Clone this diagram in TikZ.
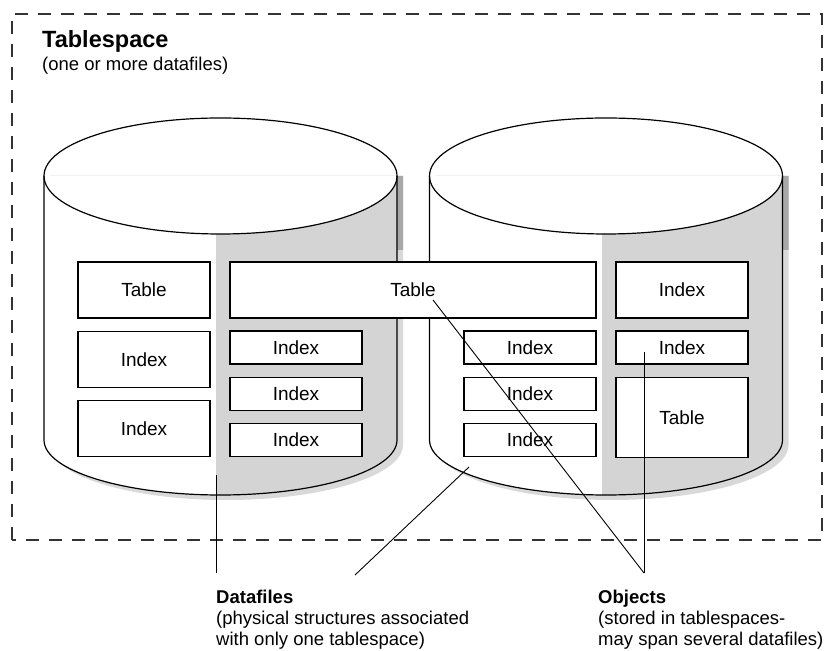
\documentclass[tikz,border=0pt]{standalone}
\usepackage{fontspec}
\setmainfont{Liberation Sans}
\usetikzlibrary{positioning}
\usetikzlibrary{calc}

\begin{document}
\begin{tikzpicture}[x=1pt,y=1pt,node distance=12pt,
    obj/.style={draw,fill=white,line width=1.3pt,inner sep=0pt,minimum width=132pt,font=\fontsize{19}{21}\selectfont},
    big/.style={obj,minimum height=56pt},
    small/.style={obj,minimum height=33pt},
    lbl/.style={inner sep=0pt,anchor=north west,align=left,font=\fontsize{18.5}{21}\selectfont},
    lead/.style={line width=0.9pt}]
    \useasboundingbox (0,0) rectangle (837,650);
    \draw[line width=1.3pt,black!80,dash pattern=on 13pt off 10pt] (12,110) rectangle (822,636);
    \node[inner sep=0pt,anchor=base west,font=\fontsize{23.5}{27}\selectfont\bfseries] (tsname) at (42,602) {Tablespace};
    \node[inner sep=0pt,anchor=base west,font=\fontsize{18.5}{21}\selectfont] (tsnote) at (42,579) {(one or more datafiles)};
    % the two datafiles
    \foreach \cx/\sx in {220.5/216,606/602}{
      \fill[black!15] (\cx-170.5,474) -- (\cx-170.5,205) arc (180:360:176.5 and 55) -- (\cx+182.5,474) -- cycle;
      \begin{scope}
        \clip (0,474) rectangle (837,400);
        \fill[black!34] (\cx-170.5,474) -- (\cx-170.5,205) arc (180:360:176.5 and 55) -- (\cx+182.5,474) -- cycle;
      \end{scope}
      \fill[white] (\cx-176.5,474) -- (\cx-176.5,210) arc (180:360:176.5 and 55) -- (\cx+176.5,474) -- cycle;
      \begin{scope}
        \clip (\sx,474) rectangle (\cx+180,150);
        \fill[black!17] (\cx-176.5,474) -- (\cx-176.5,210) arc (180:360:176.5 and 55) -- (\cx+176.5,474) arc (0:-180:176.5 and 58) -- cycle;
      \end{scope}
      \draw[line width=1.2pt] (\cx,474) ellipse (176.5 and 58);
      \draw[line width=1.2pt] (\cx-176.5,474) -- (\cx-176.5,210) arc (180:360:176.5 and 55) -- (\cx+176.5,474);
    }
    % objects
    \node[big] (tabA) at (144,360) {Table};
    \node[big,below=of tabA] (idxA) {Index};
    \node[big,below=of idxA] (idxB) {Index};
    \node[big,minimum width=366pt] (tabB) at (413,360) {Table};
    \node[small] (idxC) at (296,302.5) {Index};
    \node[small,below=of idxC] (idxD) {Index};
    \node[small,below=of idxD] (idxE) {Index};
    \node[small] (idxF) at (530,302.5) {Index};
    \node[small,below=of idxF] (idxG) {Index};
    \node[small,below=of idxG] (idxH) {Index};
    \node[big] (idxI) at (682,360) {Index};
    \node[small] (idxJ) at (682,302.5) {Index};
    \node[obj,minimum height=80pt,below=of idxJ] (tabC) {Table};
    % labels
    \node[lbl] (dflabel) at (216,60.5) {\textbf{Datafiles}\\(physical structures associated\\with only one tablespace)};
    \node[lbl] (oblabel) at (598,60.5) {\textbf{Objects}\\(stored in tablespaces-\\may span several datafiles)};
    \coordinate (dfA) at (216,175);
    \coordinate (dfB) at (469,183);
    \coordinate (dfAend) at (216,77);
    \coordinate (dfBend) at (355,75);
    \coordinate (obA) at (433,350);
    \coordinate (obB) at (644,298);
    \coordinate (obend) at (644,77);
    \draw[lead] (dfA) -- (dfAend);
    \draw[lead] (dfB) -- (dfBend);
    \draw[lead] (obA) -- (obend);
    \draw[lead] (obB) -- (obend);
\end{tikzpicture}
\end{document}
